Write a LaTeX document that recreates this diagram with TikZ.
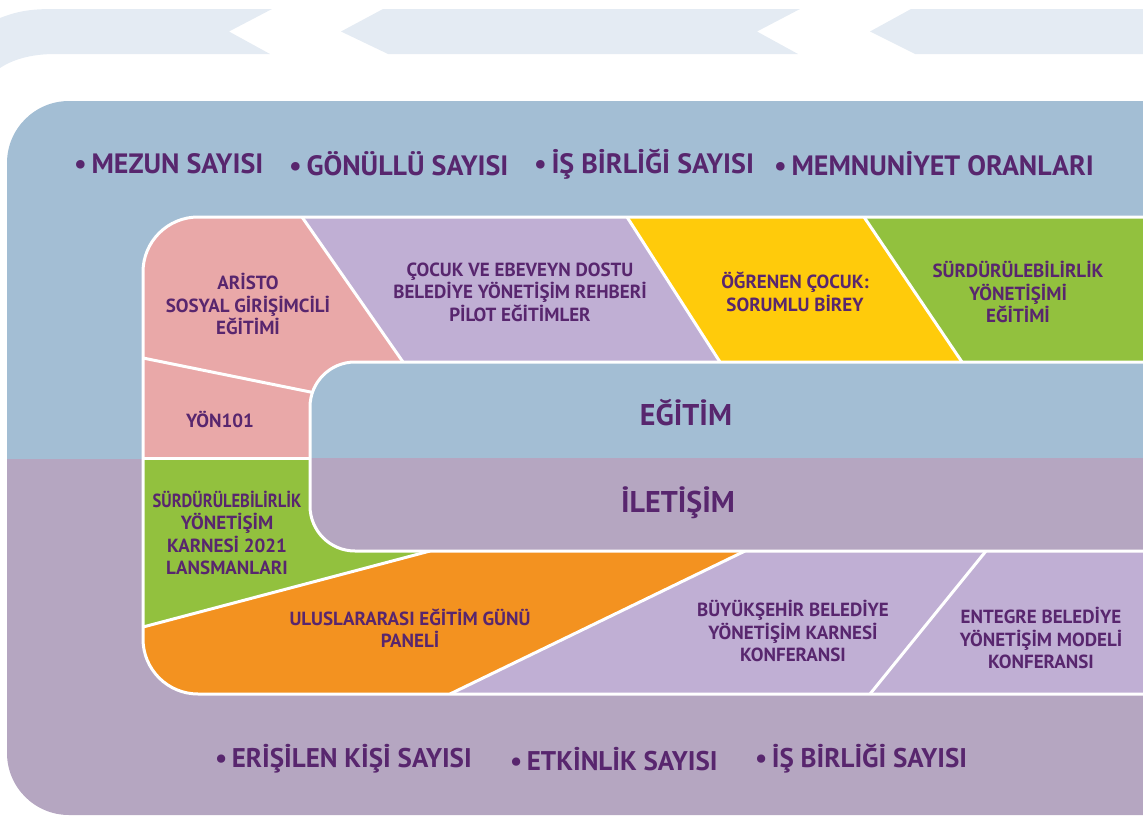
\documentclass[tikz,border=0pt]{standalone}
\usepackage{fontspec}
\setmainfont{PT Sans}
\definecolor{band}{HTML}{E4EBF3}
\definecolor{bgblue}{HTML}{A3BED4}
\definecolor{bgpurple}{HTML}{B5A6C1}
\definecolor{pinkt}{HTML}{E9A8A8}
\definecolor{lavt}{HTML}{C0AFD4}
\definecolor{yellowt}{HTML}{FFCB0B}
\definecolor{greent}{HTML}{92C13E}
\definecolor{oranget}{HTML}{F39220}
\definecolor{txt}{HTML}{58266E}
\tikzset{
  wline/.style={white, line width=3pt},
  tiletxt/.style={text=txt, align=center, font=\bfseries\fontsize{19}{22.5}\selectfont, inner sep=0pt},
  metric/.style={text=txt, anchor=west, font=\bfseries\fontsize{28}{32}\selectfont, inner sep=0pt},
  metricb/.style={text=txt, anchor=west, font=\bfseries\fontsize{27}{32}\selectfont, inner sep=0pt},
  big/.style={text=txt, font=\bfseries\fontsize{30}{34}\selectfont, inner sep=0pt}
}
\begin{document}
\begin{tikzpicture}[x=1pt,y=-1pt]
\useasboundingbox (0,0) rectangle (1143,817);
% top band
\fill[band] (0,18) .. controls (20,10) and (35,9) .. (55,9) -- (272,9) -- (229,31.5) -- (270,54) -- (55,54) .. controls (30,54) and (12,60) .. (0,68) -- cycle;
\fill[band] (341,31.5) -- (383,9) -- (800,9) -- (757,31.5) -- (798,54) -- (388,54) -- cycle;
\fill[band] (870,31.5) -- (911,9) -- (1160,9) -- (1160,54) -- (915,54) -- cycle;
% big panel
\begin{scope}
\clip[rounded corners=62] (7,101) rectangle (1260,815);
\fill[bgblue] (0,90) rectangle (1260,459);
\fill[bgpurple] (0,459) rectangle (1260,830);
\end{scope}
% inner block tiles
\begin{scope}
\clip[rounded corners=55] (143,217) rectangle (1260,694);
\fill[pinkt] (130,205) -- (302,205) -- (302,217) -- (403,362) -- (403,458) -- (130,458) -- cycle;
\fill[lavt] (302,217) -- (627,217) -- (720,362) -- (403,362) -- cycle;
\fill[yellowt] (627,217) -- (864,217) -- (962,362) -- (720,362) -- cycle;
\fill[greent] (864,217) -- (1260,217) -- (1260,362) -- (962,362) -- cycle;
\fill[greent] (130,458) -- (403,458) -- (403,551) -- (430,551) -- (130,630) -- cycle;
\fill[oranget] (130,630) -- (430,551) -- (745,551) -- (450,694) -- (130,700) -- cycle;
\fill[lavt] (745,551) -- (986,551) -- (870,694) -- (450,694) -- cycle;
\fill[lavt] (986,551) -- (1260,551) -- (1260,694) -- (870,694) -- cycle;
% separators
\draw[wline] (302,217) -- (403,362);
\draw[wline] (627,217) -- (720,362);
\draw[wline] (864,217) -- (962,362);
\draw[wline] (143,358) -- (335,397);
\draw[wline] (143,458) -- (320,458);
\draw[wline] (143,627) -- (430,551);
\draw[wline] (745,551) -- (450,694);
\draw[wline] (986,551) -- (870,694);
\end{scope}
\draw[wline, rounded corners=55] (1260,217) -- (143,217) -- (143,694) -- (1260,694);
% inner box
\begin{scope}
\clip[rounded corners=45] (310,362) rectangle (1260,551);
\fill[bgblue] (300,350) rectangle (1270,458);
\fill[bgpurple] (300,458) rectangle (1270,560);
\end{scope}
\draw[wline, rounded corners=45] (1260,362) -- (310,362) -- (310,551) -- (1260,551);
% texts
\node[big] (egitim) at (686,413) {EĞİTİM};
\node[big] (iletisim) at (678,503) {İLETİŞİM};
\node[tiletxt] (aristo) at (248,304) {ARİSTO\\SOSYAL GİRİŞİMCİLİ\\EĞİTİMİ};
\node[tiletxt] (cocuk) at (520,292) {ÇOCUK VE EBEVEYN DOSTU\\BELEDİYE YÖNETİŞİM REHBERİ\\PİLOT EĞİTİMLER};
\node[tiletxt] (ogrenen) at (795,292) {ÖĞRENEN ÇOCUK:\\SORUMLU BİREY};
\node[tiletxt] (surdegt) at (1018,292) {SÜRDÜRÜLEBİLİRLİK\\YÖNETİŞİMİ\\EĞİTİMİ};
\node[tiletxt] (yon) at (220,419) {YÖN101};
\node[tiletxt] (karne) at (227,533) {\scalebox{0.87}[1]{SÜRDÜRÜLEBİLİRLİK}\\YÖNETİŞİM\\KARNESİ 2021\\LANSMANLARI};
\node[tiletxt] (panel) at (410,628) {ULUSLARARASI EĞİTİM GÜNÜ\\PANELİ};
\node[tiletxt] (buyuk) at (793,631) {BÜYÜKŞEHİR BELEDİYE\\YÖNETİŞİM KARNESİ\\KONFERANSI};
\node[tiletxt] (entegre) at (1041,638) {ENTEGRE BELEDİYE\\YÖNETİŞİM MODELİ\\KONFERANSI};
% metrics
\node[metric] (m1) at (74,164) {•\,MEZUN SAYISI};
\node[metric] (m2) at (289,164) {•\,GÖNÜLLÜ SAYISI};
\node[metric] (m3) at (534,164) {•\,İŞ BİRLİĞİ SAYISI};
\node[metric] (m4) at (774,164) {•\,MEMNUNİYET ORANLARI};
\node[metricb] (b1) at (215,759) {•\,ERİŞİLEN KİŞİ SAYISI};
\node[metricb] (b2) at (510,759) {•\,ETKİNLİK SAYISI};
\node[metricb] (b3) at (755,759) {•\,İŞ BİRLİĞİ SAYISI};
\end{tikzpicture}
\end{document}
